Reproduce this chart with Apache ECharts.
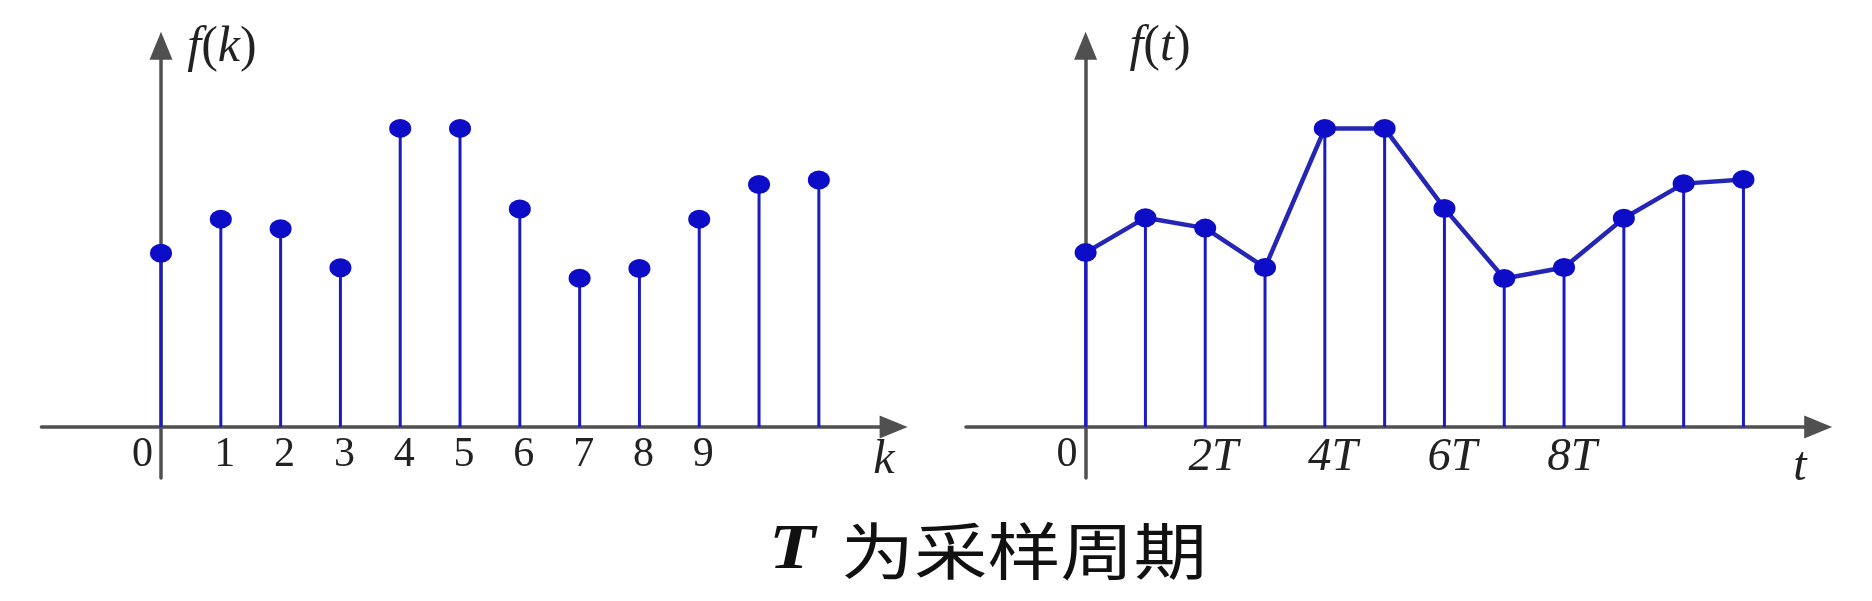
<!DOCTYPE html>
<html><head><meta charset="utf-8">
<script src="https://cdn.jsdelivr.net/npm/echarts@6/dist/echarts.min.js"></script>
<style>html,body{margin:0;padding:0;background:#fff}#c{width:1872px;height:601px}</style>
</head><body><div id="c"></div>
<script>
// ---- data ----
const kIndex = [0, 1, 2, 3, 4, 5, 6, 7, 8, 9, 10, 11];
const fkValues = [5.82, 6.96, 6.64, 5.33, 10.0, 10.0, 7.30, 4.98, 5.31, 6.96, 8.12, 8.27];
const ftValues = [5.84, 7.01, 6.66, 5.34, 10.0, 10.0, 7.32, 4.97, 5.34, 6.99, 8.15, 8.29];
const kTickValues = [0, 1, 2, 3, 4, 5, 6, 7, 8, 9];
const kTickLabels = ['0', '1', '2', '3', '4', '5', '6', '7', '8', '9'];
const tTickValues = [0, 2, 4, 6, 8];
const tTickLabels = ['0', '2T', '4T', '6T', '8T'];
const captionT = 'T';
const captionRest = '为采样周期';

// ---- styles ----
const AXIS_COLOR = '#505050';
const STEM_COLOR = '#1c1cbe';
const DOT_COLOR = '#0d0dc8';
const LINE_COLOR = '#2525b6';
const SERIF = '"Liberation Serif","Times New Roman",serif';

function pairs(xs, ys) { return xs.map((x, i) => [x, ys[i]]); }

function xAxisFor(gridIndex, tickValues, tickLabels, italic) {
  return {
    type: 'value', gridIndex, min: -2, max: 12.25, interval: 1,
    axisLine: { onZero: true, symbol: ['none', 'triangle'], symbolSize: [23, 28],
      lineStyle: { color: AXIS_COLOR, width: 3.5 } },
    axisTick: { show: false }, splitLine: { show: false },
    axisLabel: {
      margin: -44, showMinLabel: true, showMaxLabel: true,
      formatter: function (v) {
        const r = Math.round(v);
        if (Math.abs(v - r) > 1e-6) return '';
        const i = tickValues.indexOf(r);
        if (i < 0) return '';
        return r === 0 ? '{z|' + tickLabels[i] + '}' : '{n|' + tickLabels[i] + '}';
      },
      rich: {
        z: { fontFamily: SERIF, fontSize: 42, color: '#222', padding: [0, 37, 0, 0] },
        n: { fontFamily: SERIF, fontSize: italic ? 47 : 42, fontStyle: italic ? 'italic' : 'normal',
             color: '#222', padding: [0, 0, 0, italic ? 16 : 8] }
      }
    }
  };
}
function yAxisFor(gridIndex) {
  return {
    type: 'value', gridIndex, min: -1.71, max: 12.77,
    axisLine: { show: true, onZero: true, symbol: ['none', 'triangle'], symbolSize: [23, 28],
      lineStyle: { color: AXIS_COLOR, width: 3.5 } },
    axisTick: { show: false }, splitLine: { show: false }, axisLabel: { show: false }
  };
}

const option = {
  backgroundColor: '#ffffff',
  animation: false,
  grid: [
    { left: 41.4, top: 45.7, width: 852.2, height: 432.3 },
    { left: 966, top: 45.7, width: 852.2, height: 432.3 }
  ],
  xAxis: [xAxisFor(0, kTickValues, kTickLabels, false), xAxisFor(1, tTickValues, tTickLabels, true)],
  yAxis: [yAxisFor(0), yAxisFor(1)],
  series: [
    { type: 'bar', xAxisIndex: 0, yAxisIndex: 0, barWidth: 3, data: pairs(kIndex, fkValues),
      itemStyle: { color: STEM_COLOR }, z: 2 },
    { type: 'scatter', xAxisIndex: 0, yAxisIndex: 0, symbol: 'circle', symbolSize: [22, 19],
      data: pairs(kIndex, fkValues), itemStyle: { color: DOT_COLOR, opacity: 1 }, z: 4 },
    { type: 'bar', xAxisIndex: 1, yAxisIndex: 1, barWidth: 3, data: pairs(kIndex, ftValues),
      itemStyle: { color: STEM_COLOR }, z: 2 },
    { type: 'line', xAxisIndex: 1, yAxisIndex: 1, symbol: 'circle', symbolSize: [22, 19], showAllSymbol: true,
      data: pairs(kIndex, ftValues), lineStyle: { color: LINE_COLOR, width: 4.5 },
      itemStyle: { color: DOT_COLOR, opacity: 1 }, z: 4 }
  ],
  graphic: [
    { type: 'text', x: 222, y: 48, style: {
        text: '{i|f}{p|(}{i|k}{p|)}', align: 'center', verticalAlign: 'middle', fill: '#222',
        rich: { i: { fontFamily: SERIF, fontStyle: 'italic', fontSize: 50, fill: '#222', color: '#222' },
                p: { fontFamily: SERIF, fontSize: 50, fill: '#222', color: '#222' } } } },
    { type: 'text', x: 1160, y: 47, style: {
        text: '{i|f}{p|(}{i|t}{p|)}', align: 'center', verticalAlign: 'middle', fill: '#222',
        rich: { i: { fontFamily: SERIF, fontStyle: 'italic', fontSize: 50, fill: '#222', color: '#222' },
                p: { fontFamily: SERIF, fontSize: 50, fill: '#222', color: '#222' } } } },
    { type: 'text', x: 884, y: 460, style: { text: 'k', font: 'italic 48px ' + SERIF,
        align: 'center', verticalAlign: 'middle', fill: '#222' } },
    { type: 'text', x: 1800, y: 467, style: { text: 't', font: 'italic 48px ' + SERIF,
        align: 'center', verticalAlign: 'middle', fill: '#222' } },
    { type: 'text', x: 988, y: 551, scaleX: 1.18, originX: 0, originY: 0, style: {
        text: '{t|' + captionT + '}{c| ' + captionRest + '}', align: 'center', verticalAlign: 'middle', fill: '#111',
        rich: { t: { fontFamily: SERIF, fontStyle: 'italic', fontWeight: 'bold', fontSize: 64, fill: '#111', color: '#111', padding: [0, 8, 0, 0] },
                c: { fontFamily: '"Noto Sans CJK SC"', fontSize: 62, fill: '#111', color: '#111' } } } }
  ]
};
const chart = echarts.init(document.getElementById('c'), null, { renderer: 'canvas' });
chart.setOption(option);
</script></body></html>
